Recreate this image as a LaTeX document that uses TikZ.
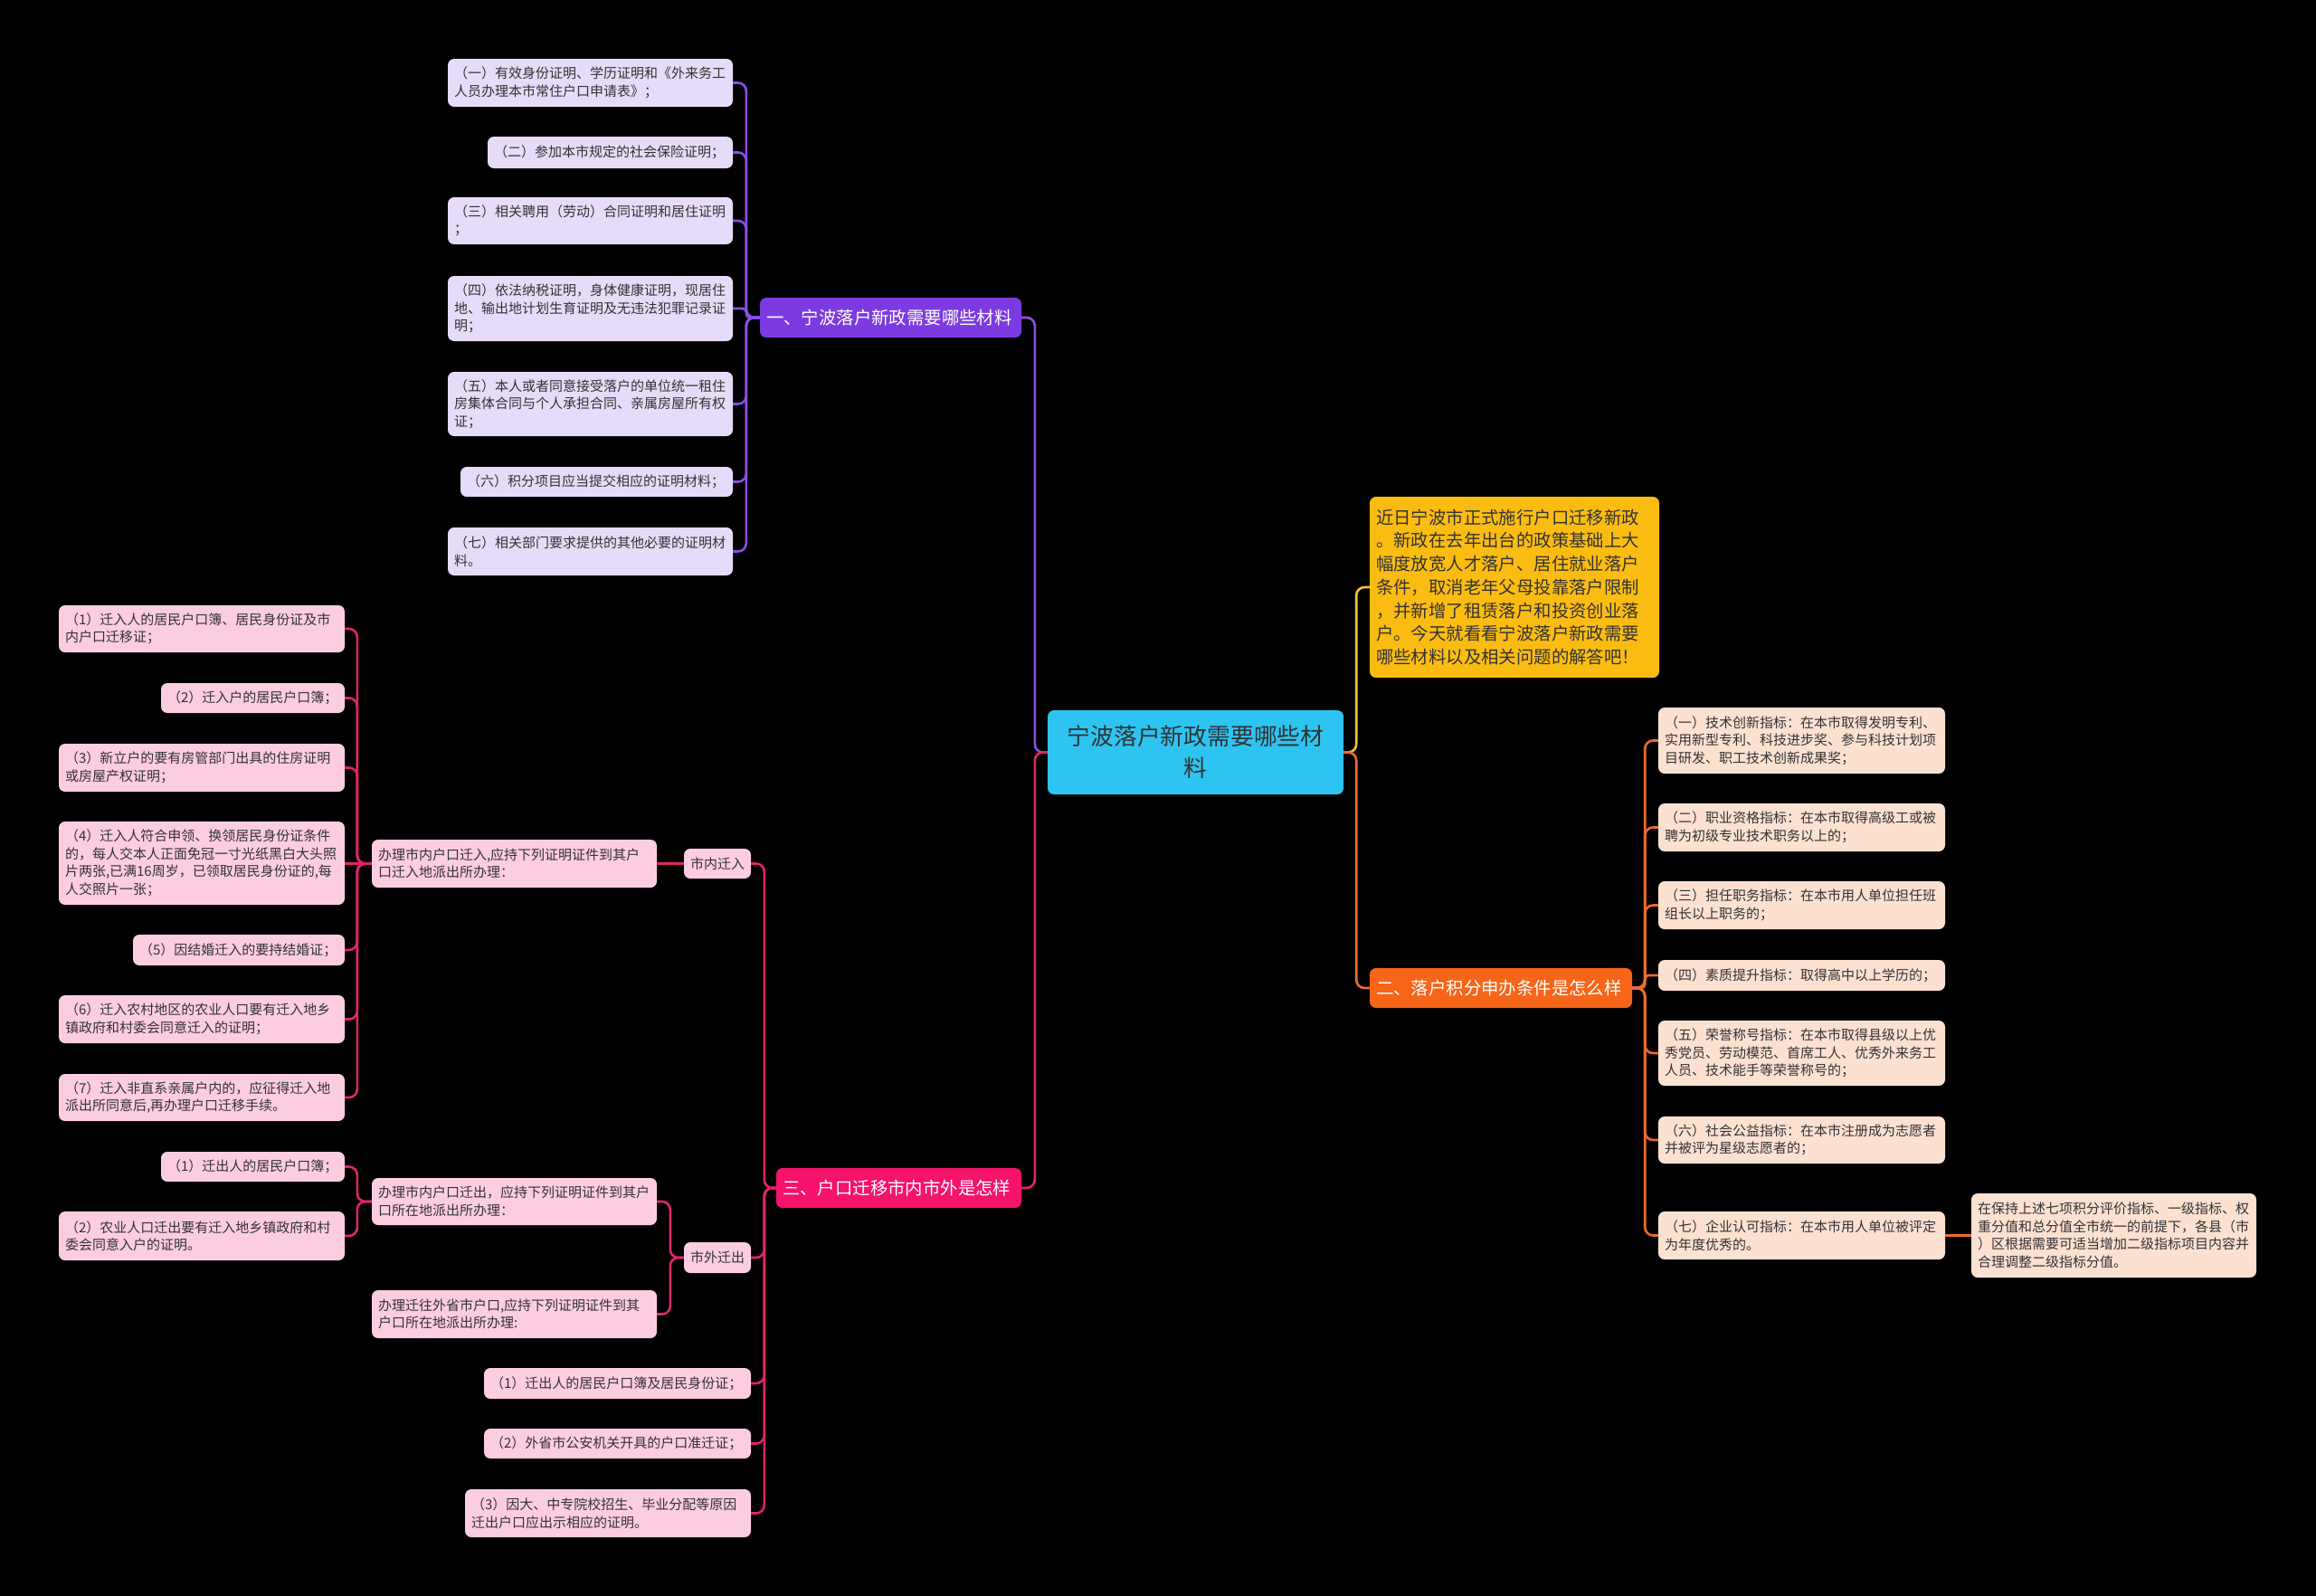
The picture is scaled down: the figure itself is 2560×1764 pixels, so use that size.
\documentclass[tikz,border=0pt]{standalone}
\usepackage{fontspec}
\setmainfont{Noto Sans CJK SC}
\definecolor{pur}{HTML}{7C3AE0}
\definecolor{purl}{HTML}{E6DBF8}
\definecolor{purline}{HTML}{8A4FE6}
\definecolor{pnk}{HTML}{F5136B}
\definecolor{pnkl}{HTML}{FCCDE1}
\definecolor{pnkline}{HTML}{E0246E}
\definecolor{org}{HTML}{F76518}
\definecolor{orgl}{HTML}{FCE1D1}
\definecolor{orgline}{HTML}{EE6A2E}
\definecolor{yel}{HTML}{FBBC12}
\definecolor{yelline}{HTML}{F2C230}
\definecolor{rootc}{HTML}{2EC4F2}
\definecolor{txt}{HTML}{333333}
\newcommand\mmnode[7]{%
  \pgfmathsetmacro\mmw{#5-#3}%
  \pgfmathsetmacro\mmh{#6-#4}%
  \pgfmathsetmacro\mmtw{#5-#3-14}%
  \node[#2, minimum width=\mmw pt, minimum height=\mmh pt, text width=\mmtw pt] (#1) at ({(#3+#5)/2},{(#4+#6)/2}) {#7};}
\begin{document}
\begin{tikzpicture}[x=1pt,y=-1pt,
  box/.style={rounded corners=7pt, inner xsep=7pt, inner ysep=0pt, align=left, text=txt, font=\fontsize{15}{19.5}\selectfont},
  leafP/.style={box, fill=purl},
  leafK/.style={box, fill=pnkl},
  leafO/.style={box, fill=orgl},
  br/.style={box, text=white, font=\fontsize{19.4}{24}\selectfont},
  conn/.style={line width=2.6pt, rounded corners=9pt},
  connS/.style={line width=2.6pt, rounded corners=4pt},
]
\fill[black] (0,0) rectangle (2560,1764);
\useasboundingbox (0,0) rectangle (2560,1764);

% root
\mmnode{root}{box, fill=rootc, align=center, font=\fontsize{25.8}{35}\selectfont}{1158}{785}{1485}{878}{宁波落户新政需要哪些材\\料}

% branch 1 (purple)
\mmnode{b1}{br, fill=pur}{840}{329}{1129}{373}{一、宁波落户新政需要哪些材料}
\mmnode{p1}{leafP}{495}{65}{810}{118}{（一）有效身份证明、学历证明和《外来务工\\人员办理本市常住户口申请表》；}
\mmnode{p2}{leafP}{539}{151}{810}{186}{（二）参加本市规定的社会保险证明；}
\mmnode{p3}{leafP}{495}{218}{810}{270}{（三）相关聘用（劳动）合同证明和居住证明\\；}
\mmnode{p4}{leafP}{495}{305}{810}{377}{（四）依法纳税证明，身体健康证明，现居住\\地、输出地计划生育证明及无违法犯罪记录证\\明；}
\mmnode{p5}{leafP}{495}{411}{810}{482}{（五）本人或者同意接受落户的单位统一租住\\房集体合同与个人承担合同、亲属房屋所有权\\证；}
\mmnode{p6}{leafP}{509}{516}{810}{549}{（六）积分项目应当提交相应的证明材料；}
\mmnode{p7}{leafP}{495}{583}{810}{636}{（七）相关部门要求提供的其他必要的证明材\\料。}

% intro (yellow)
\mmnode{intro}{box, fill=yel, font=\fontsize{19.4}{25.7}\selectfont}{1514}{549}{1834}{749}{近日宁波市正式施行户口迁移新政\\。新政在去年出台的政策基础上大\\幅度放宽人才落户、居住就业落户\\条件，取消老年父母投靠落户限制\\，并新增了租赁落户和投资创业落\\户。今天就看看宁波落户新政需要\\哪些材料以及相关问题的解答吧！}

% branch 2 (orange)
\mmnode{b2}{br, fill=org}{1514}{1070}{1804}{1114}{二、落户积分申办条件是怎么样}
\mmnode{o1}{leafO}{1833}{782}{2150}{855}{（一）技术创新指标：在本市取得发明专利、\\实用新型专利、科技进步奖、参与科技计划项\\目研发、职工技术创新成果奖；}
\mmnode{o2}{leafO}{1833}{888}{2150}{941}{（二）职业资格指标：在本市取得高级工或被\\聘为初级专业技术职务以上的；}
\mmnode{o3}{leafO}{1833}{974}{2150}{1027}{（三）担任职务指标：在本市用人单位担任班\\组长以上职务的；}
\mmnode{o4}{leafO}{1833}{1061}{2150}{1095}{（四）素质提升指标：取得高中以上学历的；}
\mmnode{o5}{leafO}{1833}{1128}{2150}{1200}{（五）荣誉称号指标：在本市取得县级以上优\\秀党员、劳动模范、首席工人、优秀外来务工\\人员、技术能手等荣誉称号的；}
\mmnode{o6}{leafO}{1833}{1234}{2150}{1286}{（六）社会公益指标：在本市注册成为志愿者\\并被评为星级志愿者的；}
\mmnode{o7}{leafO}{1833}{1339}{2150}{1392}{（七）企业认可指标：在本市用人单位被评定\\为年度优秀的。}
\mmnode{ex}{leafO}{2179}{1319}{2494}{1412}{在保持上述七项积分评价指标、一级指标、权\\重分值和总分值全市统一的前提下，各县（市\\）区根据需要可适当增加二级指标项目内容并\\合理调整二级指标分值。}

% branch 3 (pink)
\mmnode{b3}{br, fill=pnk}{858}{1291}{1129}{1335}{三、户口迁移市内市外是怎样}
\mmnode{sn}{leafK}{756}{938}{830}{971}{市内迁入}
\mmnode{snA}{leafK}{411}{928}{726}{981}{办理市内户口迁入,应持下列证明证件到其户\\口迁入地派出所办理：}
\mmnode{q1}{leafK}{65}{669}{381}{721}{（1）迁入人的居民户口簿、居民身份证及市\\内户口迁移证；}
\mmnode{q2}{leafK}{178}{755}{381}{788}{（2）迁入户的居民户口簿；}
\mmnode{q3}{leafK}{65}{822}{381}{875}{（3）新立户的要有房管部门出具的住房证明\\或房屋产权证明；}
\mmnode{q4}{leafK}{65}{908}{381}{1000}{（4）迁入人符合申领、换领居民身份证条件\\的，每人交本人正面免冠一寸光纸黑白大头照\\片两张,已满16周岁，已领取居民身份证的,每\\人交照片一张；}
\mmnode{q5}{leafK}{147}{1033}{381}{1067}{（5）因结婚迁入的要持结婚证；}
\mmnode{q6}{leafK}{65}{1100}{381}{1153}{（6）迁入农村地区的农业人口要有迁入地乡\\镇政府和村委会同意迁入的证明；}
\mmnode{q7}{leafK}{65}{1187}{381}{1239}{（7）迁入非直系亲属户内的，应征得迁入地\\派出所同意后,再办理户口迁移手续。}

\mmnode{sw}{leafK}{756}{1373}{830}{1407}{市外迁出}
\mmnode{swA}{leafK}{411}{1302}{726}{1354}{办理市内户口迁出，应持下列证明证件到其户\\口所在地派出所办理：}
\mmnode{swB}{leafK}{411}{1426}{726}{1479}{办理迁往外省市户口,应持下列证明证件到其\\户口所在地派出所办理:}
\mmnode{r1}{leafK}{178}{1273}{381}{1306}{（1）迁出人的居民户口簿；}
\mmnode{r2}{leafK}{65}{1339}{381}{1393}{（2）农业人口迁出要有迁入地乡镇政府和村\\委会同意入户的证明。}
\mmnode{t1}{leafK}{535}{1512}{830}{1546}{（1）迁出人的居民户口簿及居民身份证；}
\mmnode{t2}{leafK}{535}{1579}{830}{1612}{（2）外省市公安机关开具的户口准迁证；}
\mmnode{t3}{leafK}{514}{1646}{830}{1699}{（3）因大、中专院校招生、毕业分配等原因\\迁出户口应出示相应的证明。}

% connectors from root
\draw[conn, purline] (root.west) -- ++(-14,0) |- (b1.east);
\draw[conn, pnkline] (root.west) -- ++(-14,0) |- (b3.east);
\draw[conn, yelline] (root.east) -- ++(14,0) |- (intro.west);
\draw[conn, orgline] (root.east) -- ++(14,0) |- (b2.west);

% purple
\foreach \n in {p1,p2,p3,p5,p6,p7} {\draw[conn, purline] (b1.west) -- ++(-15,0) |- (\n.east);}
\draw[connS, purline] (b1.west) -- ++(-15,0) |- (p4.east);

% orange
\foreach \n in {o1,o2,o3,o5,o6,o7} {\draw[conn, orgline] (b2.east) -- ++(14,0) |- (\n.west);}
\draw[connS, orgline] (b2.east) -- ++(14,0) |- (o4.west);
\draw[conn, orgline] (o7.east) -- (ex.west);

% pink
\foreach \n in {sn,sw,t1,t2,t3} {\draw[conn, pnkline] (b3.west) -- ++(-13,0) |- (\n.east);}
\draw[conn, pnkline] (sn.west) -- (sn.west -| snA.east);
\foreach \n in {q1,q2,q3,q5,q6,q7} {\draw[conn, pnkline] (snA.west) -- ++(-16,0) |- (\n.east);}
\draw[conn, pnkline] (snA.west) -- (snA.west -| q4.east);
\foreach \n in {swA,swB} {\draw[conn, pnkline] (sw.west) -- ++(-15,0) |- (\n.east);}
\foreach \n in {r1,r2} {\draw[conn, pnkline] (swA.west) -- ++(-16,0) |- (\n.east);}
\end{tikzpicture}
\end{document}
